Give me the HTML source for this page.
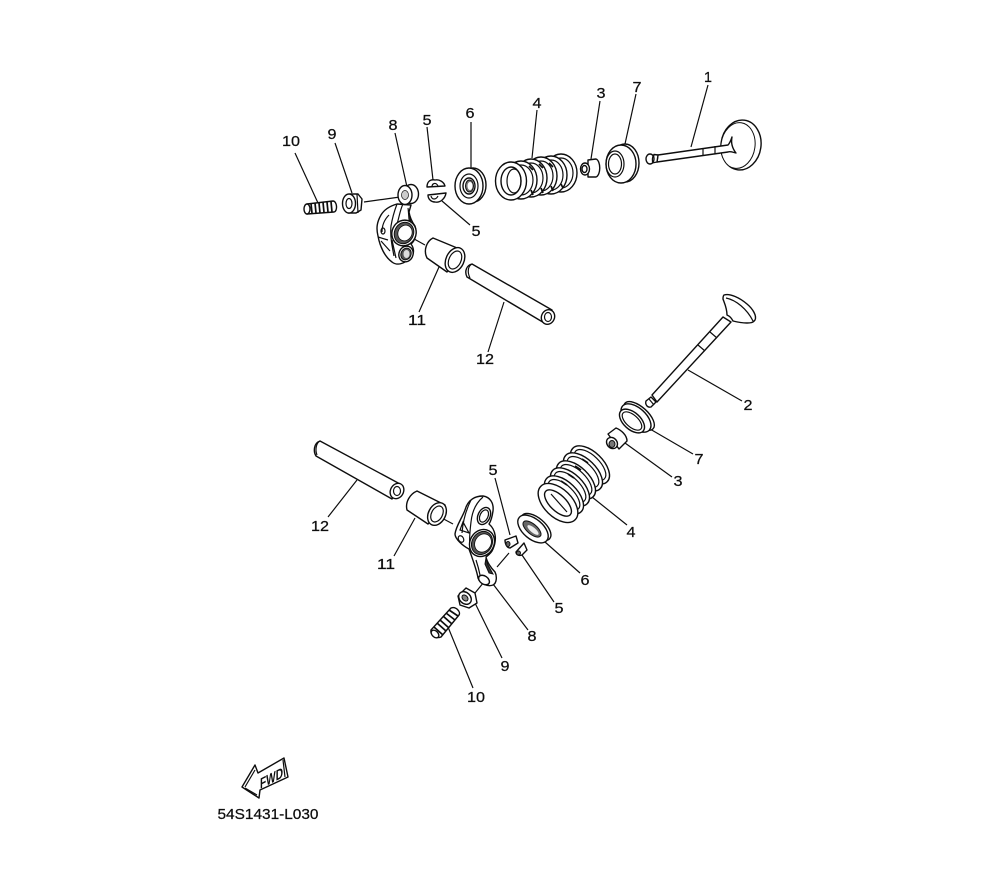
<!DOCTYPE html>
<html>
<head>
<meta charset="utf-8">
<style>
html,body{margin:0;padding:0;background:#fff;}
svg{display:block;}
.l{font-family:"Liberation Sans",sans-serif;font-size:15px;fill:#111;stroke:#111;stroke-width:.25;text-anchor:middle;}
.d{fill:#fff;stroke:#111;stroke-width:1.4;stroke-linejoin:round;}
.n{fill:none;stroke:#111;stroke-width:1.2;}
.k{fill:#333;stroke:#111;stroke-width:1;}
.t{fill:none;stroke:#111;stroke-width:1.7;}
</style>
</head>
<body>
<svg width="1000" height="880" viewBox="0 0 1000 880" xmlns="http://www.w3.org/2000/svg">
<defs><filter id="b" x="0" y="0" width="100%" height="100%"><feGaussianBlur stdDeviation="0.35"/></filter></defs>
<rect width="1000" height="880" fill="#fff"/>
<g filter="url(#b)">

<!-- leaders -->
<g class="n">
<path d="M295 153L318 203M335 143L352 193M395 133L407 187M427 127L433 180M442 201L470 225M471 122V168M537 110L532 158M600 101L591 159M636 94L625 144M708 85L691 147M439 267L419 312M504 302L488 352M364 202L400 197M407 235L425 245"/>
<path d="M688 370L742 401M650 429L693 454M625 443L672 477M592 497L627 525M545 542L580 573M522 555L554 602M493 584L528 630M475 603L502 658M448 627L473 688M495 478L510 535M357 480L328 517M415 518L394 556M438 516L453 524M497 567L509 553M475 593L484 582"/>
</g>

<!-- TOP: valve 1 -->
<ellipse class="d" cx="741" cy="145" rx="20" ry="25" transform="rotate(8 741 145)"/>
<ellipse class="d" cx="738" cy="145.500" rx="17" ry="23" transform="rotate(8 738 145.500)" style="stroke-width:1"/>
<path class="d" d="M658 155L728 145C730 143 731 140 732 137C731 142 732 148 736 153C732 152 730 151 728 152L657 162Z"/>
<path class="n" d="M703 148V156M715 146V154"/>
<path class="d" d="M654 154.500L658 155L657 162L652 163Z"/>
<ellipse class="d" cx="650" cy="159" rx="4" ry="5"/>
<path class="n" d="M654 154.500C652 157 652 161 653 163"/>

<!-- 7 top -->
<ellipse class="d" cx="625" cy="163" rx="14" ry="19"/>
<ellipse class="d" cx="621" cy="164" rx="15" ry="19"/>
<ellipse class="n" cx="615" cy="164" rx="9" ry="13"/>
<ellipse class="n" cx="615" cy="164" rx="6.500" ry="10"/>

<!-- 3 top -->
<path class="d" d="M588 160L596 159C601 161 601 175 596 177L588 177Z"/>
<ellipse class="d" cx="585" cy="169" rx="4.500" ry="6"/>
<ellipse class="d" cx="584.500" cy="169" rx="2.500" ry="3.500"/>

<!-- spring 4 top -->
<ellipse class="d" cx="561" cy="173" rx="16" ry="19"/><ellipse class="n" cx="561" cy="173" rx="12" ry="15"/>
<ellipse class="d" cx="551" cy="175" rx="16" ry="19"/><ellipse class="n" cx="551" cy="175" rx="12" ry="15"/>
<ellipse class="d" cx="541" cy="176" rx="16" ry="19"/><ellipse class="n" cx="541" cy="176" rx="12" ry="15"/>
<ellipse class="d" cx="531" cy="178" rx="16" ry="19"/><ellipse class="n" cx="531" cy="178" rx="12" ry="15"/>
<ellipse class="d" cx="521" cy="180" rx="16" ry="19"/><ellipse class="n" cx="521" cy="180" rx="12" ry="15"/>
<path class="t" d="M531 190L533 195M541 188L543 193M551 186L553 191M561 184L563 188M529 166L533 170M539 164L543 168M549 163L553 167"/>
<ellipse class="d" cx="511" cy="181" rx="15.500" ry="19"/>
<ellipse class="d" cx="511" cy="181" rx="10" ry="14"/>
<ellipse class="n" cx="514" cy="181" rx="7" ry="12"/>

<!-- 6 top -->
<ellipse class="d" cx="473" cy="185" rx="13" ry="17"/>
<ellipse class="d" cx="469" cy="186" rx="14" ry="18"/>
<ellipse class="n" cx="469" cy="186" rx="9" ry="12"/>
<ellipse class="d" cx="469" cy="186" rx="6" ry="8"/>
<ellipse class="k" style="fill:#777" cx="469.500" cy="186" rx="4" ry="6"/>
<ellipse cx="470" cy="186" rx="2.500" ry="4" fill="#fff"/>

<!-- 5 top keepers -->
<path class="d" d="M427 187C427 181 431 179 435 180C439 179 444 182 445 186Z"/>
<path class="n" d="M432 187C432 183 436 182 438 186"/>
<path class="d" d="M428 195L446 193C445 199 440 203 435 202C431 202 428 199 428 195Z"/>
<path class="n" d="M431 196C432 200 436 200 438 196"/>

<!-- rocker top -->
<path class="d" d="M397 204C390 206 384 210 381 215C377 222 376 228 378 236C380 247 385 257 392 262C397 266 404 264 410 258C415 254 414 248 411 244C416 240 417 232 415 226C412 222 410 218 409 212L411 205Z"/>
<path class="n" d="M397 204C394 212 392 220 391 226C390 236 392 246 394 256M403 204C400 210 399 218 397 224M389 215C384 220 382 226 382 232M381 241L390 251M378 237L388 240M396 258L392 240"/>
<path class="k" d="M408 208L411 222L414 226L409 220Z"/>
<ellipse class="n" cx="383" cy="231" rx="2" ry="3"/>
<ellipse class="d" cx="404" cy="233" rx="12" ry="13" transform="rotate(25 404 233)"/>
<ellipse class="k" style="fill:#555" cx="404" cy="233" rx="9.500" ry="11" transform="rotate(25 404 233)"/>
<ellipse cx="405" cy="233" rx="7" ry="8" fill="#fff" stroke="#111" stroke-width=".8" transform="rotate(25 405 233)"/>
<ellipse class="d" cx="406" cy="254" rx="7" ry="8" transform="rotate(25 406 254)"/>
<ellipse class="k" style="fill:#555" cx="406" cy="254" rx="5" ry="6" transform="rotate(25 406 254)"/>
<ellipse cx="406.500" cy="254" rx="3" ry="4" fill="#ddd"/>
<ellipse class="d" cx="411" cy="194" rx="7.500" ry="9.500"/>
<ellipse class="d" cx="405" cy="195" rx="7" ry="9.500"/>
<ellipse cx="405" cy="195" rx="3.500" ry="4.500" fill="#ccc" stroke="#111" stroke-width=".7"/>

<!-- 9 top nut -->
<path class="d" d="M350 194L358 194L362 199L361 210L356 213L348 213Z"/>
<ellipse class="d" cx="349" cy="203.500" rx="6.500" ry="9.500"/>
<ellipse class="n" cx="349" cy="203.500" rx="3" ry="5"/>
<path class="n" d="M357 194L358 213"/>

<!-- 10 top bolt -->
<path class="d" d="M307 204L333 201C337 201 338 211 334 212L307 214Z"/>
<path class="t" d="M311 203.500L312 213M315 203L316 213M319 203L320 213M323 202L324 212.500M327 202L328 212M331 201.500L332 212"/>
<ellipse class="d" cx="307" cy="209" rx="3" ry="5"/>

<!-- 11 top collar -->
<path class="d" d="M433 238L462 250L447 272L427 258C423 250 427 241 433 238Z"/>
<ellipse class="d" cx="455" cy="260" rx="9" ry="13" transform="rotate(25 455 260)"/>
<ellipse class="n" cx="455" cy="260" rx="6" ry="9.500" transform="rotate(25 455 260)"/>

<!-- 12 top pin -->
<path class="d" d="M472 264L552 310L546 324L467 277C464 271 467 265 472 264Z"/>
<path class="n" d="M472 264C468 266 467 272 470 278"/>
<ellipse class="d" cx="548" cy="317" rx="6.500" ry="7.500" transform="rotate(25 548 317)"/>
<ellipse class="n" cx="548" cy="317" rx="3.500" ry="4.500"/>

<!-- LOWER: valve 2 -->
<path class="d" d="M652 395L723 317L731 322L657 402Z"/>
<path class="n" d="M698 345L705 351M710 332L717 338"/>
<path class="d" d="M724 295C730 293 740 298 747 304C753 309 757 316 755 320C753 323 750 323 747 323C742 323 737 322 733 321C731 317 729 316 727 315C727 308 724 302 723 299C723 297 723 296 724 295Z"/>
<path class="n" d="M726 298C736 300 747 309 753 321"/>
<path class="d" d="M646 401L651 397L656 402L651 407C647 408 645 404 646 401Z"/>
<path class="n" d="M649 399L654 405"/>

<!-- 7 lower -->
<ellipse class="d" cx="639" cy="416" rx="19" ry="9" transform="rotate(42 639 416)"/>
<ellipse class="d" cx="636" cy="418" rx="18" ry="10" transform="rotate(42 636 418)"/>
<ellipse class="d" cx="632" cy="421" rx="15" ry="8.500" transform="rotate(42 632 421)"/>
<ellipse class="n" cx="632" cy="421" rx="12" ry="6" transform="rotate(42 632 421)"/>

<!-- 3 lower -->
<path class="d" d="M608 434L616 428C621 430 627 435 627 441L619 449Z"/>
<ellipse class="d" cx="612" cy="443" rx="5" ry="6" transform="rotate(-42 612 443)"/>
<ellipse class="k" style="fill:#777" cx="612" cy="444" rx="3" ry="3.500"/>

<!-- 4 lower spring -->
<g>
<ellipse class="d" cx="590" cy="465" rx="24" ry="13" transform="rotate(44 590 465)"/><ellipse class="n" cx="590" cy="465" rx="20" ry="9.500" transform="rotate(44 590 465)"/>
<ellipse class="d" cx="583" cy="472" rx="24" ry="13" transform="rotate(44 583 472)"/><ellipse class="n" cx="583" cy="472" rx="20" ry="9.500" transform="rotate(44 583 472)"/>
<ellipse class="d" cx="576" cy="480" rx="24" ry="13" transform="rotate(44 576 480)"/><ellipse class="n" cx="576" cy="480" rx="20" ry="9.500" transform="rotate(44 576 480)"/>
<ellipse class="d" cx="570" cy="487" rx="24" ry="13" transform="rotate(44 570 487)"/><ellipse class="n" cx="570" cy="487" rx="20" ry="9.500" transform="rotate(44 570 487)"/>
<ellipse class="d" cx="564" cy="495" rx="24" ry="13" transform="rotate(44 564 495)"/><ellipse class="n" cx="564" cy="495" rx="20" ry="9.500" transform="rotate(44 564 495)"/>
<ellipse class="d" cx="558" cy="503" rx="24" ry="14" transform="rotate(44 558 503)"/>
<ellipse class="d" cx="558" cy="503" rx="17" ry="8" transform="rotate(44 558 503)"/>
<path class="n" d="M551 494L567 512"/>
<path class="t" d="M568 474L574 478M575 466L581 470M582 459L588 463M561 481L567 485"/>
</g>

<!-- 6 lower -->
<ellipse class="d" cx="536" cy="527" rx="18" ry="9" transform="rotate(40 536 527)"/>
<ellipse class="d" cx="533" cy="529" rx="18" ry="10" transform="rotate(40 533 529)"/>
<ellipse class="k" style="fill:#666" cx="532" cy="529" rx="11" ry="5" transform="rotate(40 532 529)"/>
<ellipse cx="533" cy="530" rx="7" ry="2.500" fill="#eee" transform="rotate(40 533 530)"/>

<!-- 5 lower keepers -->
<path class="d" d="M505 540L516 536L518 543L510 548C507 548 505 544 505 540Z"/>
<ellipse class="k" style="fill:#666" cx="508" cy="544" rx="2" ry="2.500"/>
<path class="d" d="M516 552L524 543L527 550L522 555C519 556 516 555 516 552Z"/>
<ellipse class="k" style="fill:#666" cx="518.500" cy="553" rx="2" ry="2"/>

<!-- rocker lower -->
<path class="d" d="M465 510C468 499 476 496 483 496C490 497 494 503 493 511C492 518 491 521 489 524C496 530 497 540 493 549C491 554 487 556 486 557C487 562 491 568 495 572C497 576 497 583 493 585C488 587 480 584 478 578C477 571 473 560 469 549C463 546 455 539 455 534C456 526 462 518 465 510Z"/>
<path class="n" d="M471 500C466 510 463 520 462 533M483 497C476 503 472 512 471 522C470 530 469 540 470 548M460 530L463 522L469 533ZM476 560C478 566 479 570 480 575"/>
<path class="k" d="M486 558L488 565L493 574L489 573L485 564Z"/>
<ellipse class="n" cx="461" cy="539" rx="2.500" ry="3.500" transform="rotate(-30 461 539)"/>
<ellipse class="d" cx="484" cy="516" rx="6" ry="9" transform="rotate(25 484 516)"/>
<ellipse class="n" cx="484" cy="516" rx="4" ry="6.500" transform="rotate(25 484 516)"/>
<ellipse class="d" cx="482" cy="543" rx="12" ry="14" transform="rotate(30 482 543)"/>
<ellipse class="k" style="fill:#555" cx="482" cy="543" rx="10" ry="12" transform="rotate(30 482 543)"/>
<ellipse cx="483" cy="543" rx="8" ry="9.500" fill="#fff" stroke="#111" stroke-width=".8" transform="rotate(30 483 543)"/>
<ellipse class="d" cx="484" cy="580" rx="6" ry="4" transform="rotate(35 484 580)"/>

<!-- 9 lower nut -->
<path class="d" d="M458 596L466 588L475 593L477 603L469 608L460 605Z"/>
<ellipse class="d" cx="465" cy="598" rx="7" ry="5.500" transform="rotate(45 465 598)"/>
<ellipse class="k" style="fill:#888" cx="465" cy="598" rx="3.500" ry="2.500" transform="rotate(45 465 598)"/>

<!-- 10 lower bolt -->
<path class="d" d="M431 630L451 608C456 606 461 612 459 615L441 637C436 639 430 635 431 630Z"/>
<path class="t" d="M434 627L443 635M437 623L446 631M440 620L449 628M443 616L452 624M446 613L455 620M449 610L458 616"/>
<ellipse class="d" cx="435" cy="634" rx="3" ry="4.500" transform="rotate(-45 435 634)"/>

<!-- 11 lower collar -->
<path class="d" d="M417 491L445 505L428 524L407 510C405 502 410 494 417 491Z"/>
<ellipse class="d" cx="437" cy="514" rx="8.500" ry="12" transform="rotate(28 437 514)"/>
<ellipse class="n" cx="437" cy="514" rx="5.500" ry="8.500" transform="rotate(28 437 514)"/>

<!-- 12 lower pin -->
<path class="d" d="M320 441L400 484L392 499L316 456C313 451 314 443 320 441Z"/>
<path class="n" d="M320 441C316 443 315 450 317 455"/>
<ellipse class="d" cx="397" cy="491" rx="6.500" ry="8" transform="rotate(28 397 491)"/>
<ellipse class="n" cx="397" cy="491" rx="3.500" ry="4.500"/>

<!-- FWD arrow -->
<path class="d" d="M242 787L255 765L258 773L284 758L288 777L260 790L259 798Z"/>
<path class="n" d="M245 787L255 770M245 788L257 795M283 760L285 777"/>
<text transform="translate(260 789) skewY(-27)" x="0" y="0" font-family="'Liberation Sans',sans-serif" font-weight="bold" font-size="15" fill="#111" textLength="23" lengthAdjust="spacingAndGlyphs">FWD</text>

<!-- labels -->
<text class="l" x="708" y="82" textLength="8" lengthAdjust="spacingAndGlyphs">1</text>
<text class="l" x="601" y="98" textLength="9" lengthAdjust="spacingAndGlyphs">3</text>
<text class="l" x="637" y="92" textLength="9" lengthAdjust="spacingAndGlyphs">7</text>
<text class="l" x="537" y="108" textLength="9" lengthAdjust="spacingAndGlyphs">4</text>
<text class="l" x="470" y="118" textLength="9" lengthAdjust="spacingAndGlyphs">6</text>
<text class="l" x="427" y="125" textLength="9" lengthAdjust="spacingAndGlyphs">5</text>
<text class="l" x="393" y="130" textLength="9" lengthAdjust="spacingAndGlyphs">8</text>
<text class="l" x="332" y="139" textLength="9" lengthAdjust="spacingAndGlyphs">9</text>
<text class="l" x="291" y="146" textLength="18" lengthAdjust="spacingAndGlyphs">10</text>
<text class="l" x="476" y="236" textLength="9" lengthAdjust="spacingAndGlyphs">5</text>
<text class="l" x="417" y="325" textLength="18" lengthAdjust="spacingAndGlyphs">11</text>
<text class="l" x="485" y="364" textLength="18" lengthAdjust="spacingAndGlyphs">12</text>
<text class="l" x="748" y="410" textLength="9" lengthAdjust="spacingAndGlyphs">2</text>
<text class="l" x="699" y="464" textLength="9" lengthAdjust="spacingAndGlyphs">7</text>
<text class="l" x="678" y="486" textLength="9" lengthAdjust="spacingAndGlyphs">3</text>
<text class="l" x="631" y="537" textLength="9" lengthAdjust="spacingAndGlyphs">4</text>
<text class="l" x="585" y="585" textLength="9" lengthAdjust="spacingAndGlyphs">6</text>
<text class="l" x="559" y="613" textLength="9" lengthAdjust="spacingAndGlyphs">5</text>
<text class="l" x="532" y="641" textLength="9" lengthAdjust="spacingAndGlyphs">8</text>
<text class="l" x="505" y="671" textLength="9" lengthAdjust="spacingAndGlyphs">9</text>
<text class="l" x="476" y="702" textLength="18" lengthAdjust="spacingAndGlyphs">10</text>
<text class="l" x="493" y="475" textLength="9" lengthAdjust="spacingAndGlyphs">5</text>
<text class="l" x="320" y="531" textLength="18" lengthAdjust="spacingAndGlyphs">12</text>
<text class="l" x="386" y="569" textLength="18" lengthAdjust="spacingAndGlyphs">11</text>
<text class="l" x="268" y="819" textLength="101" lengthAdjust="spacingAndGlyphs">54S1431-L030</text>
</g>
</svg>
</body>
</html>
